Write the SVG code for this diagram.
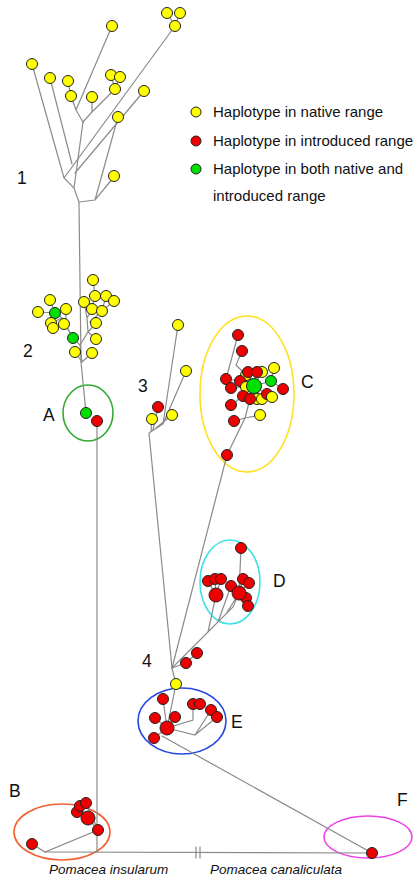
<svg xmlns="http://www.w3.org/2000/svg" width="418" height="880" viewBox="0 0 418 880">
<style>
.bg{fill:#fff}
.e{fill:none;stroke:#8a8a8a;stroke-width:1.2;stroke-linecap:round}
.y{fill:#ffff00;stroke:#222;stroke-width:1}
.r{fill:#ee0000;stroke:#222;stroke-width:1}
.g{fill:#00e000;stroke:#222;stroke-width:1}
.ell{fill:none;stroke-width:1.6}
.lab{font-family:"Liberation Sans",Arial,sans-serif;font-size:17.5px;fill:#111}
.leg{font-family:"Liberation Sans",Arial,sans-serif;font-size:15px;fill:#111}
.sp{font-family:"Liberation Sans",Arial,sans-serif;font-size:13.5px;font-style:italic;fill:#111}
</style>
<rect class="bg" x="0" y="0" width="418" height="880"/>

<g id="ellipses">
<ellipse class="ell" cx="88" cy="413" rx="25" ry="28" stroke="#33aa33"/>
<ellipse class="ell" cx="247" cy="394" rx="47" ry="78" stroke="#ffe020"/>
<ellipse class="ell" cx="230" cy="582" rx="30" ry="42" stroke="#40e0e8"/>
<ellipse class="ell" cx="182" cy="721" rx="44" ry="33" stroke="#2448e0"/>
<ellipse class="ell" cx="62" cy="832" rx="48" ry="28" stroke="#f06030"/>
<ellipse class="ell" cx="368" cy="837" rx="44" ry="21" stroke="#f040e8"/>
</g>

<g id="connectors">
<!-- top tree 1 -->
<path class="e" d="M79,203 L81,362"/>
<path class="e" d="M79,202 L95,200 L114,177 M95,200 L118,117"/>
<path class="e" d="M79,202 L74,188 L64,178 L32,64 M64,178 L175,26 M175,26 L167,13 M175,26 L180,13"/>
<path class="e" d="M74,188 L83,122 M75,173 L144,91 M72,164 L50,78"/>
<path class="e" d="M83,122 L76,110 L112,26 M76,110 L71,96 L68,81"/>
<path class="e" d="M83,122 L92,112 L92,97 M92,112 L111,93 L115,89 L111,75 M115,89 L120,77"/>
<!-- cluster 2 -->
<path class="e" d="M82,362 L75,352 M82,362 L92,353 M82,362 L80,345 L73,338 M80,345 L88,332 L96,339 M88,332 L96,323 M88,332 L87,318 L84,302 M87,318 L92,309 L95,296 L93,280 M90,322 L102,311 L106,296 M102,311 L114,301"/>
<path class="e" d="M73,338 L62,318 L55,313 L38,312 M55,313 L50,300 M62,318 L51,323 L53,328 M73,338 L66,326 L66,309 M66,326 L64,324"/>
<!-- to A and down to B -->
<path class="e" d="M81,362 L86,413"/>
<path class="e" d="M97,421 L97,852"/>
<path class="e" d="M45,852 L372,853"/>
<path class="e" d="M196,847 L196,858 M200,847 L200,858"/>
<path class="e" d="M32,844 L45,852 L98,830 L88,818 L77,812 M88,818 L80,806 M98,830 L86,803"/>
<!-- cluster 3 -->
<path class="e" d="M172,668 L149,433 L163,424 L178,325 M163,424 L186,371 M156,428 L172,415 M153,430 L158,407 M151,431 L152,419"/>
<!-- C -->
<path class="e" d="M172,668 L227,455 L245,418 L250,399 L254,386 M245,418 L234,421 M245,418 L260,415"/>
<path class="e" d="M254,386 L246,375 M254,386 L248,372 M254,386 L257,372 M254,386 L262,372 M254,386 L240,381 M254,386 L271,381 L274,368 M271,381 L283,389 M254,386 L246,387 M254,386 L243,396 M254,386 L257,399 M254,386 L262,399 M254,386 L267,394 L272,397 M254,386 L231,388 M240,381 L226,379 L238,335 M243,396 L231,405 M242,351 L236,365 L246,375"/>
<!-- D -->
<path class="e" d="M172,668 L233,607 L239,593 L241,548 M208,632 L216,595 L208,581 M216,595 L215,579 M216,595 L221,579 M218,622 L231,586 M226,614 L239,593 M239,593 L243,579 M239,593 L249,583 M239,593 L246,598 L248,606"/>
<!-- 4 -->
<path class="e" d="M172,668 L186,663 L197,653"/>
<!-- E -->
<path class="e" d="M172,668 L176,684 L167,728 M163,699 L167,728 M167,728 L155,718 M167,728 L175,717 M167,728 L193,720 L193,704 L200,704 M167,728 L195,735 L211,710 M195,735 L217,717 M167,728 L154,738"/>
<path class="e" d="M162,736 L372,853"/>
</g>

<g id="nodes-1">
<g id="n1a"><circle class="y" cx="167" cy="13" r="5.5"/></g>
<g id="n1b"><circle class="y" cx="180" cy="13" r="5.5"/></g>
<g id="n1c"><circle class="y" cx="175" cy="26" r="5.5"/></g>
<g id="n1d"><circle class="y" cx="112" cy="26" r="5.5"/></g>
<g id="n1e"><circle class="y" cx="32" cy="64" r="5.5"/></g>
<g id="n1f"><circle class="y" cx="50" cy="78" r="5.5"/></g>
<g id="n1g"><circle class="y" cx="68" cy="81" r="5.5"/></g>
<g id="n1h"><circle class="y" cx="71" cy="96" r="5.5"/></g>
<g id="n1i"><circle class="y" cx="92" cy="97" r="5.5"/></g>
<g id="n1j"><circle class="y" cx="111" cy="75" r="5.5"/></g>
<g id="n1k"><circle class="y" cx="120" cy="77" r="5.5"/></g>
<g id="n1l"><circle class="y" cx="115" cy="89" r="5.5"/></g>
<g id="n1m"><circle class="y" cx="144" cy="91" r="5.5"/></g>
<g id="n1n"><circle class="y" cx="118" cy="117" r="5.5"/></g>
<g id="n1o"><circle class="y" cx="114" cy="176" r="5.5"/></g>
</g>

<g id="nodes-2">
<g id="n2a"><circle class="y" cx="93" cy="280" r="5.5"/></g>
<g id="n2b"><circle class="y" cx="50" cy="300" r="5.5"/></g>
<g id="n2c"><circle class="y" cx="95" cy="296" r="5.5"/></g>
<g id="n2d"><circle class="y" cx="106" cy="296" r="5.5"/></g>
<g id="n2e"><circle class="y" cx="114" cy="301" r="5.5"/></g>
<g id="n2f"><circle class="y" cx="84" cy="302" r="5.5"/></g>
<g id="n2g"><circle class="y" cx="38" cy="312" r="5.5"/></g>
<g id="n2h"><circle class="g" cx="55" cy="313" r="5.5"/></g>
<g id="n2i"><circle class="y" cx="66" cy="309" r="5.5"/></g>
<g id="n2j"><circle class="y" cx="92" cy="309" r="5.5"/></g>
<g id="n2k"><circle class="y" cx="102" cy="311" r="5.5"/></g>
<g id="n2l"><circle class="y" cx="51" cy="323" r="5.5"/></g>
<g id="n2m"><circle class="y" cx="53" cy="328" r="5.5"/></g>
<g id="n2n"><circle class="y" cx="64" cy="324" r="5.5"/></g>
<g id="n2o"><circle class="y" cx="96" cy="323" r="5.5"/></g>
<g id="n2p"><circle class="g" cx="73" cy="338" r="5.5"/></g>
<g id="n2q"><circle class="y" cx="96" cy="339" r="5.5"/></g>
<g id="n2r"><circle class="y" cx="75" cy="352" r="5.5"/></g>
<g id="n2s"><circle class="y" cx="92" cy="353" r="5.5"/></g>
</g>

<g id="nodes-A">
<g id="nAa"><circle class="g" cx="86" cy="413" r="5.5"/></g>
<g id="nAb"><circle class="r" cx="97" cy="421" r="5.5"/></g>
</g>

<g id="nodes-3">
<g id="n3a"><circle class="y" cx="178" cy="325" r="5.5"/></g>
<g id="n3b"><circle class="y" cx="186" cy="371" r="5.5"/></g>
<g id="n3c"><circle class="r" cx="158" cy="407" r="5.5"/></g>
<g id="n3d"><circle class="y" cx="152" cy="419" r="5.5"/></g>
<g id="n3e"><circle class="y" cx="172" cy="415" r="5.5"/></g>
</g>

<g id="nodes-C">
<g id="nCa"><circle class="r" cx="238" cy="335" r="5.5"/></g>
<g id="nCb"><circle class="r" cx="242" cy="351" r="5.5"/></g>
<g id="nCc"><circle class="y" cx="274" cy="368" r="5.5"/></g>
<g id="nCd"><circle class="y" cx="246" cy="375" r="5.5"/></g>
<g id="nCe"><circle class="y" cx="262" cy="372" r="5.5"/></g>
<g id="nCf"><circle class="r" cx="248" cy="372" r="5.5"/></g>
<g id="nCg"><circle class="r" cx="257" cy="372" r="5.5"/></g>
<g id="nCh"><circle class="r" cx="226" cy="379" r="5.5"/></g>
<g id="nCi"><circle class="r" cx="240" cy="381" r="5.5"/></g>
<g id="nCj"><circle class="g" cx="271" cy="381" r="5.5"/></g>
<g id="nCk"><circle class="y" cx="246" cy="387" r="5.5"/></g>
<g id="nCl"><circle class="r" cx="231" cy="388" r="5.5"/></g>
<g id="nCm"><circle class="r" cx="283" cy="389" r="5.5"/></g>
<g id="nCn"><circle class="y" cx="257" cy="399" r="5.5"/></g>
<g id="nCo"><circle class="y" cx="262" cy="399" r="5.5"/></g>
<g id="nCp"><circle class="r" cx="243" cy="396" r="5.5"/></g>
<g id="nCq"><circle class="r" cx="250" cy="399" r="5.5"/></g>
<g id="nCr"><circle class="r" cx="267" cy="394" r="5.5"/></g>
<g id="nCs"><circle class="y" cx="272" cy="397" r="5.5"/></g>
<g id="nCt"><circle class="g" cx="254" cy="386" r="7.5"/></g>
<g id="nCu"><circle class="r" cx="231" cy="405" r="5.5"/></g>
<g id="nCv"><circle class="y" cx="260" cy="415" r="5.5"/></g>
<g id="nCw"><circle class="r" cx="234" cy="421" r="5.5"/></g>
<g id="nCx"><circle class="r" cx="227" cy="455" r="5.5"/></g>
</g>

<g id="nodes-D">
<g id="nDa"><circle class="r" cx="241" cy="548" r="5.5"/></g>
<g id="nDb"><circle class="r" cx="208" cy="581" r="5.5"/></g>
<g id="nDc"><circle class="r" cx="215" cy="579" r="5.5"/></g>
<g id="nDd"><circle class="r" cx="221" cy="579" r="5.5"/></g>
<g id="nDe"><circle class="r" cx="231" cy="586" r="5.5"/></g>
<g id="nDf"><circle class="r" cx="243" cy="579" r="5.5"/></g>
<g id="nDg"><circle class="r" cx="249" cy="583" r="5.5"/></g>
<g id="nDh"><circle class="r" cx="216" cy="595" r="7"/></g>
<g id="nDi"><circle class="r" cx="246" cy="598" r="5.5"/></g>
<g id="nDj"><circle class="r" cx="248" cy="606" r="5.5"/></g>
<g id="nDk"><circle class="r" cx="239" cy="593" r="7"/></g>
</g>

<g id="nodes-4">
<g id="n4a"><circle class="r" cx="197" cy="653" r="5.5"/></g>
<g id="n4b"><circle class="r" cx="186" cy="663" r="5.5"/></g>
</g>

<g id="nodes-E">
<g id="nEa"><circle class="y" cx="176" cy="684" r="5.5"/></g>
<g id="nEb"><circle class="r" cx="163" cy="699" r="5.5"/></g>
<g id="nEc"><circle class="r" cx="193" cy="704" r="5.5"/></g>
<g id="nEd"><circle class="r" cx="200" cy="704" r="5.5"/></g>
<g id="nEe"><circle class="r" cx="211" cy="710" r="5.5"/></g>
<g id="nEf"><circle class="r" cx="217" cy="717" r="5.5"/></g>
<g id="nEg"><circle class="r" cx="155" cy="718" r="5.5"/></g>
<g id="nEh"><circle class="r" cx="175" cy="717" r="5.5"/></g>
<g id="nEi"><circle class="r" cx="167" cy="728" r="7"/></g>
<g id="nEj"><circle class="r" cx="154" cy="738" r="5.5"/></g>
</g>

<g id="nodes-B">
<g id="nBa"><circle class="r" cx="77" cy="812" r="5.5"/></g>
<g id="nBb"><circle class="r" cx="80" cy="806" r="5.5"/></g>
<g id="nBc"><circle class="r" cx="86" cy="803" r="5.5"/></g>
<g id="nBd"><circle class="r" cx="88" cy="818" r="7"/></g>
<g id="nBe"><circle class="r" cx="98" cy="830" r="5.5"/></g>
<g id="nBf"><circle class="r" cx="32" cy="844" r="5.5"/></g>
</g>

<g id="nodes-F">
<g id="nFa"><circle class="r" cx="372" cy="853" r="5.5"/></g>
</g>

<g id="labels">
<text class="lab" x="17" y="184">1</text>
<text class="lab" x="23" y="357">2</text>
<text class="lab" x="138" y="392">3</text>
<text class="lab" x="142" y="667">4</text>
<text class="lab" x="43" y="421">A</text>
<text class="lab" x="9" y="797">B</text>
<text class="lab" x="301" y="388">C</text>
<text class="lab" x="273" y="587">D</text>
<text class="lab" x="231" y="728">E</text>
<text class="lab" x="397" y="806">F</text>
<text class="sp" x="49" y="874">Pomacea insularum</text>
<text class="sp" x="210" y="874">Pomacea canaliculata</text>
</g>

<g id="legend">
<circle class="y" cx="196" cy="112" r="5"/>
<circle class="r" cx="196" cy="141" r="5"/>
<circle class="g" cx="196" cy="169" r="5"/>
<text class="leg" x="213" y="117">Haplotype in native range</text>
<text class="leg" x="213" y="146">Haplotype in introduced range</text>
<text class="leg" x="213" y="174">Haplotype in both native and</text>
<text class="leg" x="213" y="201">introduced range</text>
</g>
</svg>
